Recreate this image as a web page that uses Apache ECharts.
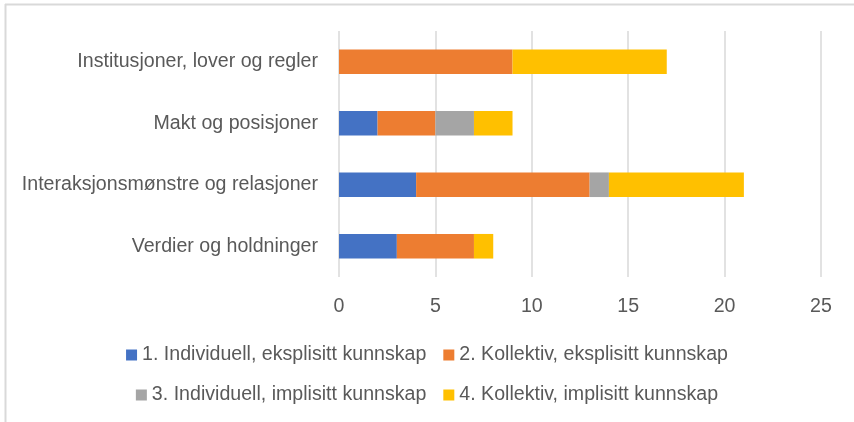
<!DOCTYPE html>
<html><head><meta charset="utf-8">
<script src="https://cdn.jsdelivr.net/npm/echarts@6/dist/echarts.min.js"></script>
<style>html,body{margin:0;padding:0;background:#fff}#c{width:854px;height:422px}</style>
</head><body><div id="c"></div>
<script>
const categories = ["Institusjoner, lover og regler", "Makt og posisjoner", "Interaksjonsmønstre og relasjoner", "Verdier og holdninger"];
const seriesNames = ["1. Individuell, eksplisitt kunnskap", "2. Kollektiv, eksplisitt kunnskap", "3. Individuell, implisitt kunnskap", "4. Kollektiv, implisitt kunnskap"];
const individuellEksplisitt = [0, 2, 4, 3];
const kollektivEksplisitt = [9, 3, 9, 4];
const individuellImplisitt = [0, 2, 1, 0];
const kollektivImplisitt = [8, 2, 7, 1];
const colors = ["#4472C4", "#ED7D31", "#A5A5A5", "#FFC000"];
const values = [individuellEksplisitt, kollektivEksplisitt, individuellImplisitt, kollektivImplisitt];

const font = "Liberation Sans";
const txt = {color: "#595959", fontFamily: font, fontSize: 19.6};
const chart = echarts.init(document.getElementById('c'));
chart.setOption({
  animation: false,
  color: colors,
  graphic: [
    {type: 'line', shape: {x1: 5, y1: 4.5, x2: 860, y2: 4.5}, style: {stroke: '#D9D9D9', lineWidth: 2}},
    {type: 'line', shape: {x1: 5.5, y1: 4, x2: 5.5, y2: 430}, style: {stroke: '#D9D9D9', lineWidth: 2}}
  ],
  grid: {left: 339, right: 33, top: 31, bottom: 145, containLabel: false},
  legend: [
    {data: seriesNames.slice(0, 2), top: 340, left: 'center', itemWidth: 11, itemHeight: 11, itemGap: 17, icon: 'rect', textStyle: txt},
    {data: seriesNames.slice(2, 4), top: 380, left: 'center', itemWidth: 11, itemHeight: 11, itemGap: 17, icon: 'rect', textStyle: txt}
  ],
  xAxis: {
    type: 'value', min: 0, max: 25, interval: 5,
    axisLine: {show: false}, axisTick: {show: false},
    splitLine: {lineStyle: {color: '#D9D9D9', width: 1.5}},
    axisLabel: Object.assign({margin: 20}, txt)
  },
  yAxis: {
    type: 'category', data: categories, inverse: true,
    axisLine: {show: false}, axisTick: {show: false},
    axisLabel: Object.assign({margin: 21}, txt)
  },
  series: values.map((v, i) => ({
    name: seriesNames[i], type: 'bar', stack: 'total', data: v,
    barWidth: '40%', itemStyle: {color: colors[i]}
  }))
});
</script></body></html>
